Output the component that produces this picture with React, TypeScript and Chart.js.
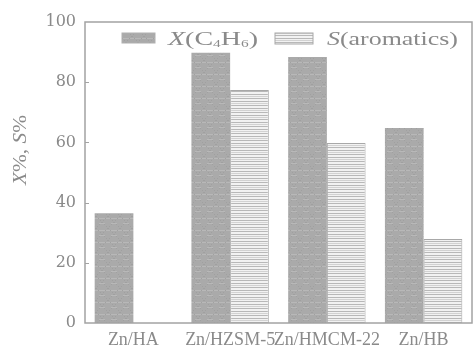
import React, { useEffect, useRef } from 'react';
import { Chart, registerables } from 'chart.js';

Chart.register(...registerables);

const categories = ['Zn/HA', 'Zn/HZSM-5', 'Zn/HMCM-22', 'Zn/HB'];
const conversion = [36.5, 89.8, 88.4, 64.8];
const selectivity = [null, 77.4, 59.8, 27.9];
const yMin = 0;
const yMax = 100;
const yStep = 20;

const TEXT = '#8a8a8a';
const AXIS = '#a3a3a3';

function makeXPattern(ctx: CanvasRenderingContext2D) {
  const c = document.createElement('canvas');
  c.width = 12; c.height = 12;
  const g = c.getContext('2d')!;
  g.fillStyle = '#aaaaaa';
  g.fillRect(0, 0, 12, 12);
  g.fillStyle = '#b8b8b8';
  g.fillRect(0, 2, 12, 1);
  g.fillRect(3, 7, 6, 1);
  g.fillStyle = '#a0a0a0';
  for (let i = 0; i < 12; i += 2) { g.fillRect(i, i, 1, 1); g.fillRect(11 - i, i, 1, 1); }
  return ctx.createPattern(c, 'repeat')!;
}

function makeSPattern(ctx: CanvasRenderingContext2D) {
  const c = document.createElement('canvas');
  c.width = 8; c.height = 7;
  const g = c.getContext('2d')!;
  g.fillStyle = '#f2f2f2';
  g.fillRect(0, 0, 8, 7);
  g.fillStyle = '#b8b8b8';
  g.fillRect(0, 0, 8, 1);
  g.fillRect(0, 3, 8, 1);
  g.fillStyle = '#d2d2d2';
  g.fillRect(0, 5, 8, 1);
  return ctx.createPattern(c, 'repeat')!;
}

type Part = { t: string; italic?: boolean; sub?: boolean };

function drawRich(ctx: CanvasRenderingContext2D, parts: Part[], x: number, y: number, size: number, sx: number) {
  ctx.save();
  ctx.translate(x, y);
  ctx.scale(sx, 1);
  ctx.fillStyle = TEXT;
  ctx.textBaseline = 'alphabetic';
  ctx.textAlign = 'left';
  let cx = 0;
  for (const p of parts) {
    const fs = p.sub ? size * 0.55 : size;
    ctx.font = `${p.italic ? 'italic ' : ''}${fs}px "Liberation Serif", serif`;
    ctx.fillText(p.t, cx, p.sub ? size * 0.12 : 0);
    cx += ctx.measureText(p.t).width;
  }
  ctx.restore();
}

function richWidth(ctx: CanvasRenderingContext2D, parts: Part[], size: number) {
  let w = 0;
  for (const p of parts) {
    const fs = p.sub ? size * 0.55 : size;
    ctx.font = `${p.italic ? 'italic ' : ''}${fs}px "Liberation Serif", serif`;
    w += ctx.measureText(p.t).width;
  }
  return w;
}

export default function App() {
  const ref = useRef<HTMLCanvasElement>(null);
  useEffect(() => {
    document.body.style.margin = '0';
    const canvas = ref.current!;
    const ctx = canvas.getContext('2d')!;
    const patX = makeXPattern(ctx);
    const patS = makeSPattern(ctx);

    const decor = {
      id: 'decor',
      afterDraw(chart: any) {
        const c = chart.ctx as CanvasRenderingContext2D;
        const a = chart.chartArea;
        const ys = chart.scales.y;
        c.save();
        // frame
        c.strokeStyle = AXIS;
        c.lineWidth = 1.5;
        c.strokeRect(a.left, a.top, a.right - a.left, a.bottom - a.top);
        // inward ticks
        c.lineWidth = 1;
        for (let v = yMin + yStep; v < yMax; v += yStep) {
          const py = Math.round(ys.getPixelForValue(v)) + 0.5;
          c.beginPath();
          c.moveTo(a.left, py);
          c.lineTo(a.left + 4, py);
          c.stroke();
        }
        // legend
        const size = 18;
        const ly = a.top + 23;
        c.fillStyle = patX;
        c.fillRect(a.left + 37, a.top + 11, 33, 10);
        c.strokeStyle = '#b0b0b0';
        c.strokeRect(a.left + 37, a.top + 11, 33, 10);
        const xParts: Part[] = [
          { t: 'X', italic: true }, { t: '(C' }, { t: '4', sub: true }, { t: 'H' }, { t: '6', sub: true }, { t: ')' },
        ];
        const xw = richWidth(c, xParts, size);
        drawRich(c, xParts, a.left + 83, ly, size, 90 / xw);
        c.fillStyle = patS;
        c.fillRect(a.left + 190, a.top + 11, 38, 11);
        c.strokeStyle = '#a8a8a8';
        c.strokeRect(a.left + 190, a.top + 11, 38, 11);
        const sParts: Part[] = [{ t: 'S', italic: true }, { t: '(aromatics)' }];
        const sw = richWidth(c, sParts, size);
        drawRich(c, sParts, a.left + 242, ly, size, 131 / sw);
        // y title
        c.save();
        c.translate(26, 150);
        c.rotate(-Math.PI / 2);
        const tParts: Part[] = [{ t: 'X', italic: true }, { t: '%, ' }, { t: 'S', italic: true }, { t: '%' }];
        const tw = richWidth(c, tParts, 18);
        const tsx = 70 / tw;
        drawRich(c, tParts, -35, 0, 18, tsx);
        c.restore();
        c.restore();
      },
    };

    const chart = new Chart(canvas, {
      type: 'bar',
      data: {
        labels: categories,
        datasets: [
          { label: 'X(C4H6)', data: conversion, backgroundColor: patX, borderColor: '#a0a0a0', borderWidth: 0 },
          { label: 'S(aromatics)', data: selectivity as any, backgroundColor: patS, borderColor: '#a8a8a8', borderWidth: 1 },
        ],
      },
      options: {
        responsive: false,
        animation: false,
        layout: { padding: { top: 22, right: 2, left: 0, bottom: 0 } },
        datasets: { bar: { categoryPercentage: 0.8, barPercentage: 1.0 } },
        plugins: { legend: { display: false }, tooltip: { enabled: false } },
        scales: {
          x: {
            grid: { display: false, drawTicks: false },
            border: { display: false },
            ticks: {
              color: TEXT,
              padding: 6,
              maxRotation: 0,
              autoSkip: false,
              font: { family: '"Liberation Serif", serif', size: 18 },
            },
            afterFit: (s: any) => { s.height = 24; },
          },
          y: {
            min: yMin,
            max: yMax,
            grid: { display: false, drawTicks: false },
            border: { display: false },
            ticks: {
              stepSize: yStep,
              color: TEXT,
              padding: 9,
              font: { family: '"DejaVu Serif", serif', size: 16 },
            },
            afterFit: (s: any) => { s.width = 85; },
          },
        },
      },
      plugins: [decor],
    });
    return () => chart.destroy();
  }, []);
  return <canvas ref={ref} width={474} height={347} style={{ display: 'block' }} />;
}
